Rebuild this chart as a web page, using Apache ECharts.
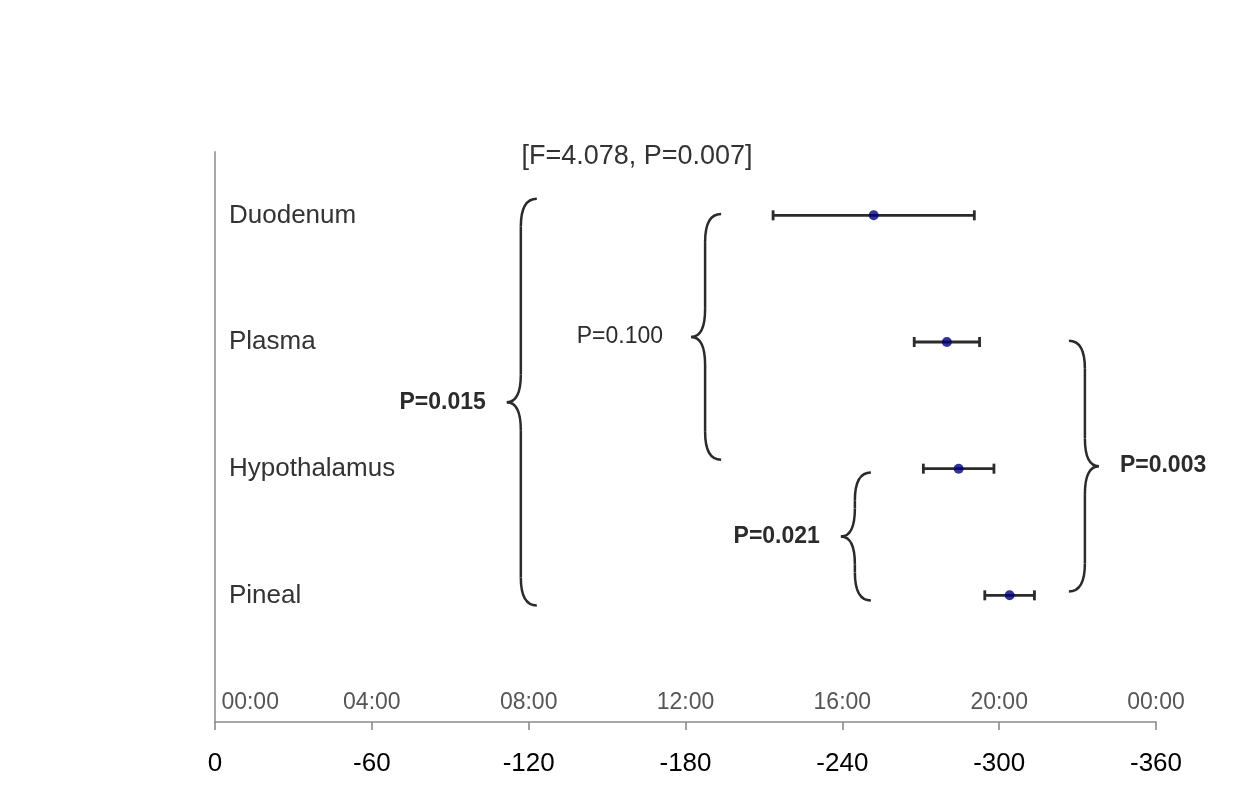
<!DOCTYPE html>
<html>
<head>
<meta charset="utf-8">
<script src="https://cdn.jsdelivr.net/npm/echarts@6/dist/echarts.min.js"></script>
<style>
  html, body { margin: 0; padding: 0; background: #fff; }
  #chart { width: 1244px; height: 798px; }
</style>
</head>
<body>
<div id="chart"></div>
<script>
// Acrophase (degrees, 0 = 00:00) per tissue, mean with SEM
const organs = ['Duodenum', 'Plasma', 'Hypothalamus', 'Pineal'];
const phaseMean = [-252, -280, -284.5, -304];
const phaseSem = [38.5, 12.5, 13.5, 9.5];

// clock time labels along the phase axis (every 60 degrees = 4 h)
const clockLabels = ['00:00', '04:00', '08:00', '12:00', '16:00', '20:00', '00:00'];

// pairwise comparison braces: phase position, row span, tip side, label
const braceLabels = ['P=0.015', 'P=0.100', 'P=0.021', 'P=0.003'];
const braceAt = [-117, -187.5, -244.8, -332.8];
const braceFrom = [4.13, 4.01, 1.97, 3.01];
const braceTo = [0.92, 2.07, 0.96, 1.03];
const braceSide = [-1, -1, -1, 1];
const braceBold = [1, 0, 1, 1];

const anovaText = '[F=4.078, P=0.007]';

const FONT = "'Liberation Sans', Arial, sans-serif";
const rowOf = i => organs.length - i;

const pointData = phaseMean.map((m, i) => [m, rowOf(i)]);
const barData = phaseMean.map((m, i) => [m - phaseSem[i], m + phaseSem[i], rowOf(i)]);
const braceData = braceAt.map((x, i) => [x, braceFrom[i], braceTo[i], braceSide[i], braceBold[i]]);

function renderErrorBar(params, api) {
  const y = api.value(2);
  const a = api.coord([api.value(0), y]);
  const b = api.coord([api.value(1), y]);
  const cap = 5;
  const style = { stroke: '#2b2b2b', lineWidth: 2.8 };
  return {
    type: 'group',
    children: [
      { type: 'line', shape: { x1: a[0], y1: a[1], x2: b[0], y2: b[1] }, style },
      { type: 'line', shape: { x1: a[0], y1: a[1] - cap, x2: a[0], y2: a[1] + cap }, style },
      { type: 'line', shape: { x1: b[0], y1: b[1] - cap, x2: b[0], y2: b[1] + cap }, style }
    ]
  };
}

function renderBrace(params, api) {
  const i = params.dataIndex;
  const p1 = api.coord([api.value(0), api.value(1)]);
  const p2 = api.coord([api.value(0), api.value(2)]);
  const s = api.value(3);
  const bold = api.value(4) === 1;
  const x = p1[0], y1 = p1[1], y2 = p2[1], ym = (y1 + y2) / 2;
  const cx = x - s * 16;   // end curls
  const tx = x + s * 14;   // middle tip
  const h = 28;
  const style = { stroke: '#2b2b2b', lineWidth: 2.5, fill: null };
  return {
    type: 'group',
    children: [
      { type: 'bezierCurve', shape: { x1: cx, y1: y1, cpx1: x, cpy1: y1, x2: x, y2: y1 + h }, style },
      { type: 'line', shape: { x1: x, y1: y1 + h, x2: x, y2: ym - h }, style },
      { type: 'bezierCurve', shape: { x1: x, y1: ym - h, cpx1: x, cpy1: ym, x2: tx, y2: ym }, style },
      { type: 'bezierCurve', shape: { x1: tx, y1: ym, cpx1: x, cpy1: ym, x2: x, y2: ym + h }, style },
      { type: 'line', shape: { x1: x, y1: ym + h, x2: x, y2: y2 - h }, style },
      { type: 'bezierCurve', shape: { x1: x, y1: y2 - h, cpx1: x, cpy1: y2, x2: cx, y2: y2 }, style },
      {
        type: 'text',
        style: {
          text: braceLabels[i],
          x: tx + s * (bold ? 21 : 28),
          y: ym,
          align: s < 0 ? 'right' : 'left',
          verticalAlign: 'middle',
          fill: '#2b2b2b',
          font: (bold ? 'bold 23px ' : '23px ') + FONT
        }
      }
    ]
  };
}

const chart = echarts.init(document.getElementById('chart'), null, { renderer: 'canvas' });

chart.setOption({
  backgroundColor: '#fff',
  animation: false,
  grid: { left: 215, right: 88, top: 152, bottom: 76, containLabel: false },
  xAxis: [
    {
      type: 'value',
      min: -360,
      max: 0,
      interval: 60,
      inverse: true,
      position: 'bottom',
      axisLine: { show: true, lineStyle: { color: '#8a8a8a', width: 1.6 } },
      axisTick: { show: true, length: 8, lineStyle: { color: '#8a8a8a', width: 1.6 } },
      splitLine: { show: false },
      axisLabel: { color: '#000', fontSize: 26, fontFamily: FONT, margin: 29 }
    },
    {
      type: 'value',
      min: 0,
      max: 360,
      interval: 60,
      position: 'bottom',
      axisLine: { show: false },
      axisTick: { show: false },
      splitLine: { show: false },
      axisLabel: {
        inside: true,
        margin: 8,
        color: '#555',
        fontSize: 23,
        fontFamily: FONT,
        alignMinLabel: 'left',
        formatter: v => (v === 0 ? ' ' : '') + clockLabels[Math.round(v / 60)]
      }
    }
  ],
  yAxis: {
    type: 'value',
    min: 0,
    max: 4.5,
    interval: 1,
    axisLine: { show: true, lineStyle: { color: '#a8a8a8', width: 2 } },
    axisTick: { show: false },
    splitLine: { show: false },
    axisLabel: {
      inside: true,
      margin: 14,
      color: '#333',
      fontSize: 26,
      fontFamily: FONT,
      verticalAlign: 'middle',
      padding: [0, 0, 10, 0],
      formatter: v => (v >= 1 && v <= organs.length ? organs[organs.length - v] : '')
    }
  },
  graphic: [
    {
      type: 'text',
      style: {
        text: anovaText,
        x: 637,
        y: 157,
        align: 'center',
        verticalAlign: 'middle',
        fill: '#333',
        font: '27px ' + FONT
      }
    }
  ],
  series: [
    {
      type: 'custom',
      name: 'SEM',
      renderItem: renderErrorBar,
      data: barData,
      encode: { x: [0, 1], y: 2 },
      z: 2
    },
    {
      type: 'scatter',
      name: 'Acrophase',
      data: pointData,
      symbol: 'circle',
      symbolSize: 10,
      itemStyle: { color: '#00007a' },
      z: 3
    },
    {
      type: 'custom',
      name: 'Comparisons',
      renderItem: renderBrace,
      data: braceData,
      encode: { x: 0, y: [1, 2] },
      z: 1
    }
  ]
});
</script>
</body>
</html>
